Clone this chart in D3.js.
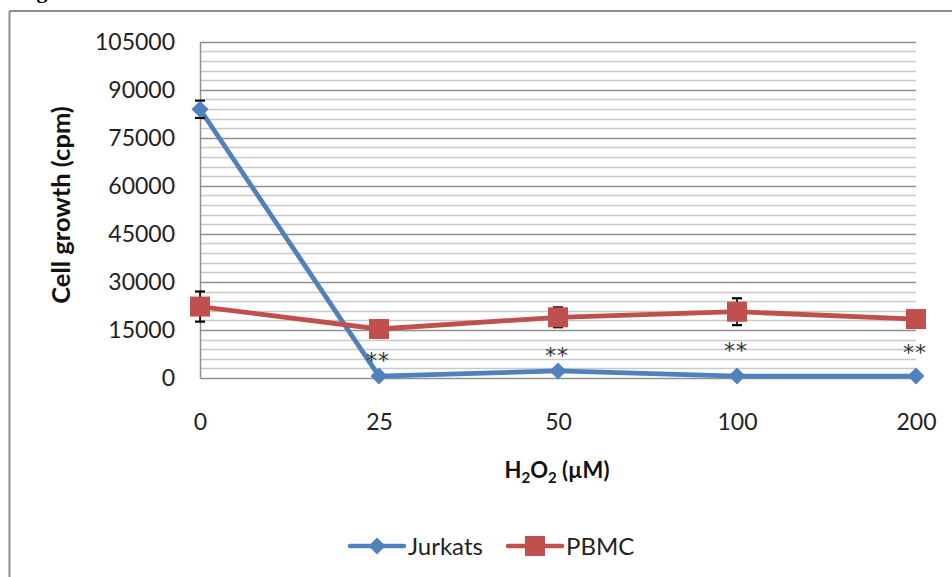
<!DOCTYPE html>
<html>
<head>
<meta charset="utf-8">
<script src="https://cdn.jsdelivr.net/npm/d3@7"></script>
<style>
  html, body { margin: 0; padding: 0; background: #fff; }
  svg { display: block; }
</style>
</head>
<body>
<svg id="chart" width="952" height="577"></svg>
<script>
// ---- data ----
const categories = ["0", "25", "50", "100", "200"];
const jurkats    = [83900, 600, 2200, 600, 600];
const jurkatsErr = [2700, 0, 0, 0, 0];
const pbmc       = [22300, 15300, 18950, 20700, 18400];
const pbmcErr    = [4700, 1500, 3100, 4200, 1500];
const sigLabels  = ["", "**", "**", "**", "**"];
const sigLevel   = [0, 7200, 8700, 10300, 9700];
const yTicks     = [0, 15000, 30000, 45000, 60000, 75000, 90000, 105000];
const seriesNames = ["Jurkats", "PBMC"];

// ---- layout ----
const svg = d3.select("#chart");
const W = 952, H = 577;
const pLeft = 200, pRight = 916, pTop = 41.7, pBottom = 378;
const blue = "#4F81BD", red = "#C0504D";
const font = "Lato, 'Open Sans', sans-serif";

const x = d3.scalePoint().domain(categories).range([pLeft, pRight]);
const y = d3.scaleLinear().domain([0, 105000]).range([pBottom, pTop]);

// outer frame (only top and left visible)
svg.append("line").attr("x1", 9.5).attr("x2", W).attr("y1", 11).attr("y2", 11)
  .attr("stroke", "#8c8c8c").attr("stroke-width", 2);
svg.append("line").attr("x1", 9.5).attr("x2", 9.5).attr("y1", 11).attr("y2", H)
  .attr("stroke", "#8c8c8c").attr("stroke-width", 2);

// cut-off caption above frame
svg.append("text").attr("x", 17).attr("y", -2)
  .attr("font-family", "'Liberation Serif', serif").attr("font-weight", "bold")
  .attr("font-size", 22).attr("fill", "#000").text("Fig");

// gridlines
const minor = d3.range(0, 105001, 3000).filter(v => v % 15000 !== 0);
svg.append("g").selectAll("line").data(minor).join("line")
  .attr("x1", pLeft).attr("x2", pRight)
  .attr("y1", d => Math.round(y(d)) + 0.5).attr("y2", d => Math.round(y(d)) + 0.5)
  .attr("stroke", "#c9c9c9").attr("stroke-width", 1.3);
svg.append("g").selectAll("line").data(yTicks.filter(v => v > 0)).join("line")
  .attr("x1", pLeft).attr("x2", pRight)
  .attr("y1", d => Math.round(y(d)) + 0.5).attr("y2", d => Math.round(y(d)) + 0.5)
  .attr("stroke", "#8f8f8f").attr("stroke-width", 1.3);

// y axis via d3
const yAxis = d3.axisLeft(y).tickValues(yTicks).tickSize(0).tickPadding(25)
  .tickFormat(d3.format("d"));
const gy = svg.append("g").attr("transform", `translate(${pLeft},0)`).call(yAxis);
gy.select(".domain").attr("stroke", "#8f8f8f").attr("stroke-width", 1.5);
gy.selectAll("text").attr("font-family", font).attr("font-size", 23).attr("fill", "#222");

// x axis via d3
const xAxis = d3.axisBottom(x).tickSize(0).tickPadding(36);
const gx = svg.append("g").attr("transform", `translate(0,${pBottom})`).call(xAxis);
gx.select(".domain").attr("stroke", "#8f8f8f").attr("stroke-width", 1.5);
gx.selectAll("text").attr("font-family", font).attr("font-size", 23).attr("fill", "#222");

// axis titles
svg.append("text")
  .attr("transform", `translate(70,205) rotate(-90)`)
  .attr("text-anchor", "middle")
  .attr("font-family", font).attr("font-weight", "bold").attr("font-size", 25.5)
  .attr("fill", "#111").text("Cell growth (cpm)");

const xt = svg.append("text").attr("x", 557).attr("y", 478)
  .attr("text-anchor", "middle")
  .attr("font-family", font).attr("font-weight", "bold").attr("font-size", 22)
  .attr("fill", "#111");
xt.append("tspan").text("H");
xt.append("tspan").attr("font-size", 15).attr("dy", 5).text("2");
xt.append("tspan").attr("dy", -5).text("O");
xt.append("tspan").attr("font-size", 15).attr("dy", 5).text("2");
xt.append("tspan").attr("dy", -5).text(" (\u00B5M)");

// data tables
const series = [
  { name: seriesNames[0], vals: jurkats, errs: jurkatsErr, color: blue, shape: "diamond" },
  { name: seriesNames[1], vals: pbmc, errs: pbmcErr, color: red, shape: "square" }
];

const line = d3.line().x((d, i) => x(categories[i])).y(d => y(d));

function marker(g, shape, color) {
  if (shape === "diamond") {
    g.append("path").attr("d", "M0,-8.5L8.5,0L0,8.5L-8.5,0Z").attr("fill", color);
  } else {
    g.append("rect").attr("x", -10).attr("y", -10).attr("width", 20).attr("height", 20)
      .attr("fill", color);
  }
}

// lines
series.forEach(s => {
  svg.append("path").datum(s.vals).attr("d", line)
    .attr("fill", "none").attr("stroke", s.color).attr("stroke-width", 4.8)
    .attr("stroke-linejoin", "round");
});

// error bars
series.forEach(s => {
  const g = svg.append("g");
  s.vals.forEach((v, i) => {
    if (!s.errs[i]) return;
    const cx = x(categories[i]);
    const y1 = y(v + s.errs[i]), y2 = y(v - s.errs[i]);
    g.append("line").attr("x1", cx).attr("x2", cx).attr("y1", y1).attr("y2", y2)
      .attr("stroke", "#000").attr("stroke-width", 1.6);
    [y1, y2].forEach(yy => g.append("line").attr("x1", cx - 5).attr("x2", cx + 5)
      .attr("y1", yy).attr("y2", yy).attr("stroke", "#000").attr("stroke-width", 2.2));
  });
});

// markers
series.forEach(s => {
  s.vals.forEach((v, i) => {
    const g = svg.append("g").attr("transform", `translate(${x(categories[i])},${y(v)})`);
    marker(g, s.shape, s.color);
  });
});

// significance labels
sigLabels.forEach((t, i) => {
  if (!t) return;
  svg.append("text").attr("x", x(categories[i]) - 1).attr("y", y(sigLevel[i]) + 13)
    .attr("text-anchor", "middle")
    .attr("font-family", "'DejaVu Sans', sans-serif").attr("font-size", 22)
    .attr("letter-spacing", 1).attr("fill", "#333").text(t);
});

// legend
const legendItems = [
  { s: series[0], x0: 350 },
  { s: series[1], x0: 508 }
];
legendItems.forEach(({ s, x0 }) => {
  const g = svg.append("g").attr("transform", `translate(${x0},546)`);
  g.append("line").attr("x1", 0).attr("x2", 54).attr("y1", 0).attr("y2", 0)
    .attr("stroke", s.color).attr("stroke-width", 4.5).attr("stroke-linecap", "round");
  const m = g.append("g").attr("transform", "translate(27,0)");
  marker(m, s.shape, s.color);
  g.append("text").attr("x", 58).attr("y", 8.5)
    .attr("font-family", font).attr("font-size", 24).attr("fill", "#222").text(s.name);
});
</script>
</body>
</html>
